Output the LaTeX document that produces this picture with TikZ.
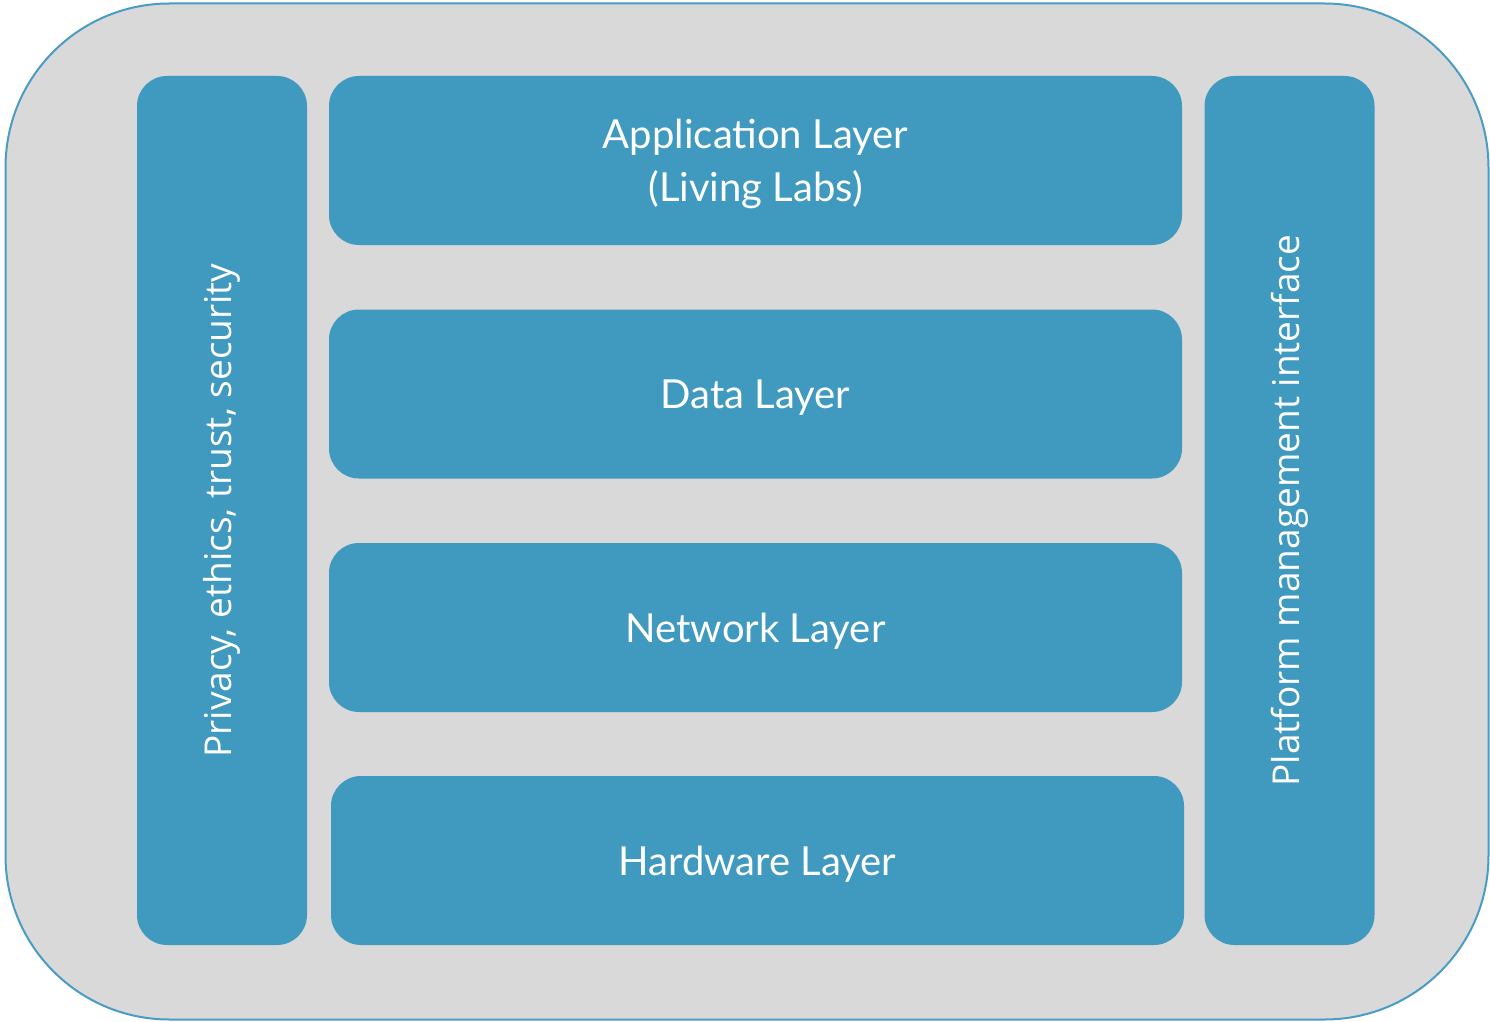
\documentclass[tikz,border=0pt]{standalone}
\usepackage{fontspec}
\setmainfont{Lato}
\newfontfamily\sidefont{Open Sans}
\usepackage{tikz}

\definecolor{layerblue}{RGB}{64,153,191}
\definecolor{framegray}{RGB}{217,217,217}
\definecolor{frameline}{RGB}{74,156,196}

\tikzset{
	layer/.style={shape=rectangle,fill=layerblue,rounded corners=15pt,text=white,
		minimum width=426.5pt,minimum height=84.5pt,align=center,text depth=0pt,
		font=\fontsize{20}{26.5}\selectfont},
	pillar/.style={shape=rectangle,fill=layerblue,rounded corners=15pt,text=white,
		minimum width=434.5pt,minimum height=85pt,rotate=90,
		font=\sidefont\fontsize{18.5}{22}\selectfont}
}

\begin{document}
\begin{tikzpicture}[x=0.5pt,y=-0.5pt]
	
	\useasboundingbox (0,0) rectangle (1490,1022);
	\node[shape=rectangle,draw=frameline,fill=framegray,line width=1pt,rounded corners=82pt,
		minimum width=741.5pt,minimum height=508pt] (frame) at (747,511.5) {};
	
	\node[pillar] (privacy)  at (222, 510.5)    {Privacy, ethics, trust, security};
	\node[pillar] (platform) at (1289.5, 510.5) {Platform management interface};
	
	\node[layer] (app)  at (755.5, 160.5) {Application Layer\\(Living Labs)};
	\node[layer] (data) at (755.5, 394)   {Data Layer};
	\node[layer] (net)  at (755.5, 627.5) {Network Layer};
	\node[layer] (hw)   at (757.5, 860.5) {Hardware Layer};
	
\end{tikzpicture}
\end{document}
